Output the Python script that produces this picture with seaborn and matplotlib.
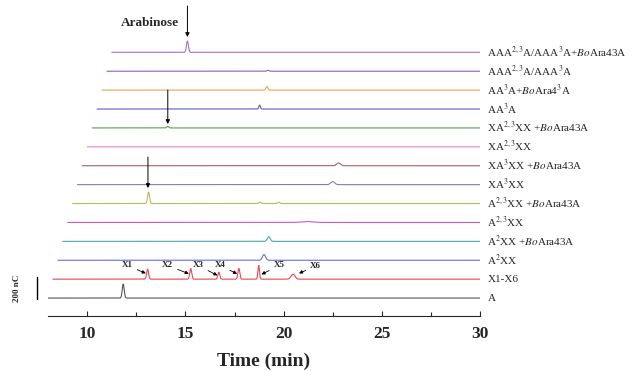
import matplotlib
matplotlib.use('Agg')
import matplotlib.pyplot as plt
import seaborn as sns
import numpy as np
import pandas as pd

sns.set_style('white')
plt.rcParams['font.family'] = ['Liberation Serif', 'DejaVu Serif']
plt.rcParams['mathtext.fontset'] = 'stix'

# samples, bottom to top
samples = ['A', 'X1-X6', 'A$^2$XX', 'A$^2$XX +$\\mathit{Bo}$Ara43A',
           'A$^{2,3}$XX', 'A$^{2,3}$XX +$\\mathit{Bo}$Ara43A',
           'XA$^3$XX', 'XA$^3$XX +$\\mathit{Bo}$Ara43A',
           'XA$^{2,3}$XX', 'XA$^{2,3}$XX +$\\mathit{Bo}$Ara43A',
           'AA$^3$A', 'AA$^3$A+$\\mathit{Bo}$Ara4$^3$A',
           'AAA$^{2,3}$A/AAA$^3$A',
           'AAA$^{2,3}$A/AAA$^3$A+$\\mathit{Bo}$Ara43A']
colors = ['#555555', '#e8454f', '#6a6ae0', '#4aa8a8', '#cc55cc', '#b8b860',
          '#8080b0', '#b05a6a', '#e088c8', '#55a055', '#5a5ac8', '#f0a050',
          '#9a5ab0', '#a070d8']

# peaks per sample: (retention time min, height nC, width min)
peaks = [
    [(11.83, 127, 0.05)],
    [(12.82, 91, 0.05), (15.02, 95, 0.05), (16.45, 64, 0.05),
     (17.47, 97, 0.05), (18.48, 125, 0.04), (20.23, 45, 0.1)],
    [(18.50, 52, 0.08)],
    [(18.49, 43, 0.07)],
    [(20.20, 8, 0.3)],
    [(11.87, 106, 0.05), (17.55, 12, 0.06), (18.50, 12, 0.06)],
    [(21.00, 27, 0.1)],
    [(21.05, 25, 0.1)],
    [],
    [(11.85, 14, 0.05)],
    [(16.28, 36, 0.04)],
    [(16.40, 32, 0.05)],
    [(16.20, 8, 0.05)],
    [(11.85, 103, 0.05)],
]

# X1..X6 labels: text (time, nC), arrow head (time, nC)
xo_labels = ['X1', 'X2', 'X3', 'X4', 'X5', 'X6']
xo_text = [(12.03, 297), (14.09, 297), (15.64, 297), (16.75, 297), (19.77, 297), (21.63, 291)]
xo_head = [(12.98, 225), (15.17, 221), (16.63, 206), (17.63, 221), (18.87, 215), (20.78, 225)]

# vertical arrows (time, y start, y end)
arrab = [(15.1, 2657, 2375), (14.1, 1893, 1583), (13.09, 1283, 1001)]

step_y = 172
shift_x = 0.25

rows = []
for i, name in enumerate(samples):
    t = np.arange(8.0, 30.0 - shift_x * i + 1e-9, 0.01)
    sig = np.zeros_like(t)
    for rt, h, w in peaks[i]:
        sig += h * np.exp(-0.5 * ((t - rt) / w) ** 2)
    rows.append(pd.DataFrame({'time': t + shift_x * i, 'signal': sig + step_y * i, 'sample': name}))
df = pd.concat(rows, ignore_index=True)

fig = plt.figure(figsize=(6.35, 3.71), dpi=100)
ax = fig.add_axes([0.0756, 0.148, 0.6803, 0.852])
sns.lineplot(data=df, x='time', y='signal', hue='sample', palette=colors,
             hue_order=samples, estimator=None, sort=False, lw=0.8,
             legend=False, ax=ax)

ax.set_xlim(8, 30)
ax.set_ylim(-164, 2712)
for s in ['top', 'right', 'left']:
    ax.spines[s].set_visible(False)
ax.spines['bottom'].set_linewidth(0.8)
ax.set_yticks([])
ax.set_xticks([10, 15, 20, 25, 30])
ax.set_xticks([12.5, 17.5, 22.5, 27.5], minor=True)
ax.tick_params(axis='x', which='major', direction='in', length=3.5, width=0.8, pad=7, bottom=True)
ax.tick_params(axis='x', which='minor', direction='in', length=2.7, width=0.8, bottom=True)
for lab in ax.get_xticklabels():
    lab.set_fontweight('bold')
    lab.set_fontsize(12.5)
ax.set_xlabel('Time (min)', fontsize=14, fontweight='bold', labelpad=8)
ax.set_ylabel('')

for i, name in enumerate(samples):
    ax.text(30.38, step_y * i, name, fontsize=8, ha='left', va='center', clip_on=False)

for lab, (tx, ty), (hx, hy) in zip(xo_labels, xo_text, xo_head):
    ax.annotate(lab, xy=(hx, hy), xytext=(tx, ty), fontsize=6.5, fontweight='bold',
                ha='center', va='center',
                arrowprops=dict(arrowstyle='-|>', color='black', lw=0.6, mutation_scale=5,
                                shrinkA=1, shrinkB=0))

for x, y0, y1 in arrab:
    ax.annotate('', xy=(x, y1), xytext=(x, y0),
                arrowprops=dict(arrowstyle='-|>', color='black', lw=0.7, mutation_scale=6,
                                shrinkA=0, shrinkB=0))
ax.text(13.19, 2500, 'Arabinose', fontsize=9.5, fontweight='bold', ha='center', va='center')

# scale bar
ax.plot([7.44, 7.44], [-9, 191], color='black', lw=1.0, clip_on=False)
ax.text(6.42, 91, '200 nC', rotation=90, fontsize=6.5, fontweight='bold',
        ha='center', va='center', clip_on=False)

fig.savefig('out.png', dpi=100)
